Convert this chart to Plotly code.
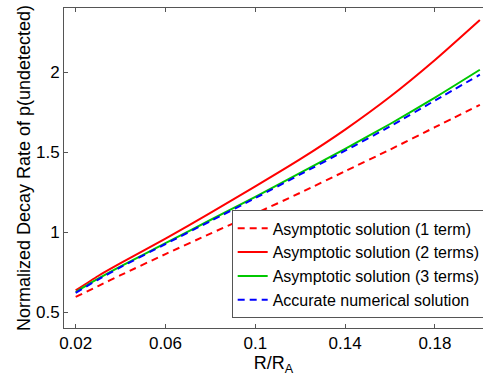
import plotly.graph_objects as go

x_vals = [0.02, 0.03, 0.04, 0.06, 0.08, 0.10, 0.12, 0.14, 0.16, 0.18, 0.20]

y_one_term = [0.594, 0.662, 0.73, 0.862, 0.99, 1.115, 1.245, 1.38, 1.515, 1.655, 1.795]
y_two_terms = [0.635, 0.725, 0.805, 0.958, 1.12, 1.285, 1.455, 1.64, 1.845, 2.075, 2.325]
y_three_terms = [0.625, 0.708, 0.785, 0.93, 1.075, 1.22, 1.37, 1.52, 1.675, 1.84, 2.014]
y_numerical = [0.62, 0.703, 0.78, 0.925, 1.068, 1.212, 1.36, 1.508, 1.66, 1.822, 1.983]

names = [
    "Asymptotic solution (1 term)",
    "Asymptotic solution (2 terms)",
    "Asymptotic solution (3 terms)",
    "Accurate numerical solution",
]

x_ticks = [0.02, 0.06, 0.1, 0.14, 0.18]
x_tick_labels = ["0.02", "0.06", "0.1", "0.14", "0.18"]
y_ticks = [0.5, 1, 1.5, 2]
y_tick_labels = ["0.5", "1", "1.5", "2"]

FONT = "Liberation Sans, Arial, sans-serif"

fig = go.Figure()
series = [
    (y_one_term, "#ff0000", "7px,5px"),
    (y_two_terms, "#ff0000", "solid"),
    (y_three_terms, "#00c800", "solid"),
    (y_numerical, "#0000ff", "7px,5px"),
]
for (ys, color, dash), name in zip(series, names):
    fig.add_trace(go.Scatter(
        x=x_vals, y=ys, mode="lines", name=name,
        line=dict(color=color, width=2, dash=dash, shape="spline", smoothing=0.6),
    ))

axis_color = "#555555"
fig.update_layout(
    width=483, height=376,
    margin=dict(l=64, r=0, t=8, b=48, autoexpand=False),
    paper_bgcolor="white", plot_bgcolor="white",
    font=dict(family=FONT, color="black", size=17),
    showlegend=True,
    legend=dict(
        x=0.4002, y=0.03, xanchor="left", yanchor="bottom",
        bordercolor=axis_color, borderwidth=1, bgcolor="white",
        font=dict(family=FONT, size=16, color="black"),
        tracegroupgap=0, itemwidth=30,
    ),
    xaxis=dict(
        range=[0.0148, 0.2014], tickvals=x_ticks, ticktext=x_tick_labels,
        ticks="inside", ticklen=4, tickcolor=axis_color, tickwidth=1,
        showline=True, linecolor=axis_color, linewidth=1, mirror="ticks",
        showgrid=False, zeroline=False,
        tickfont=dict(size=17),
        title=dict(text="R/R<sub>A</sub>", font=dict(size=18), standoff=2),
    ),
    yaxis=dict(
        range=[0.4, 2.4], tickvals=y_ticks, ticktext=y_tick_labels,
        ticks="inside", ticklen=4, tickcolor=axis_color, tickwidth=1,
        showline=True, linecolor=axis_color, linewidth=1, mirror=False,
        showgrid=False, zeroline=False,
        tickfont=dict(size=17),
        title=dict(text="Normalized Decay Rate of p(undetected)", font=dict(size=18), standoff=0),
    ),
)

fig.write_html(
    "out.html",
    config={"displayModeBar": False},
    post_script="document.body.style.margin='0';",
)
